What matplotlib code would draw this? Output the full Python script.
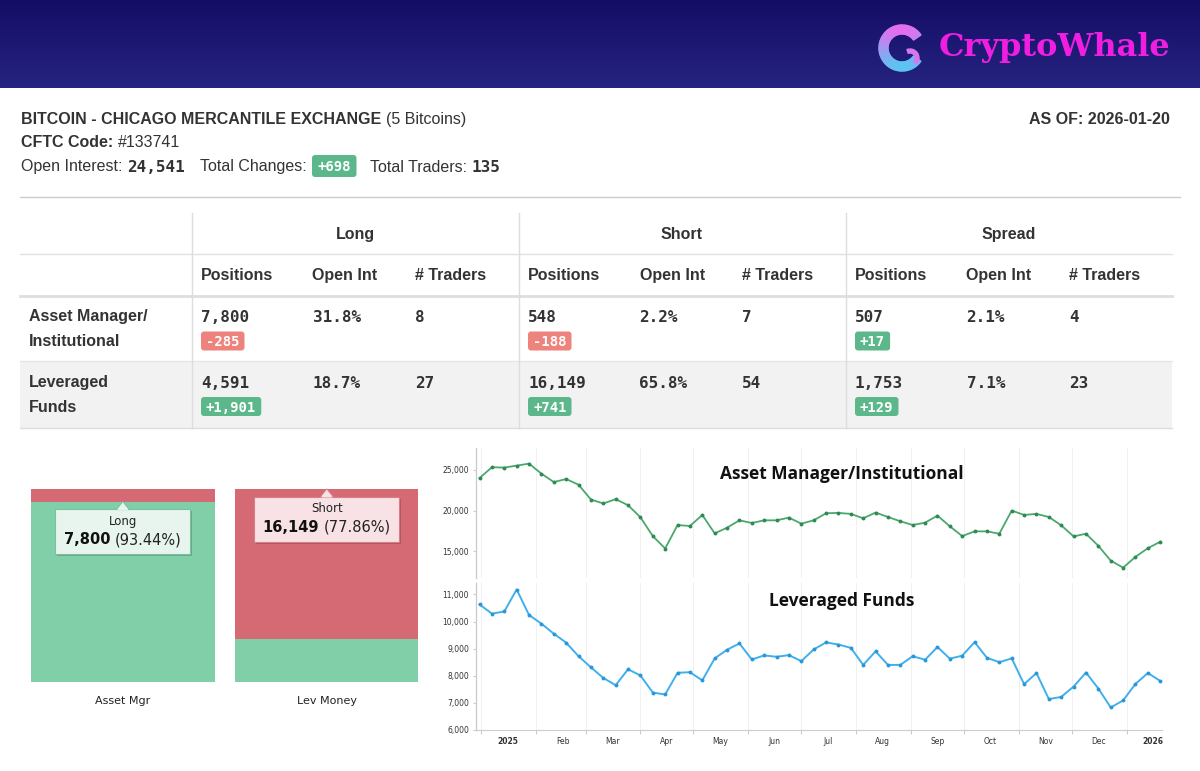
import matplotlib
matplotlib.use("Agg")
import matplotlib.pyplot as plt
from matplotlib.patches import Rectangle, FancyBboxPatch, Polygon, Wedge
import matplotlib.ticker as mticker
import numpy as np
import pandas as pd

# ---------------- data ----------------
market_name = "BITCOIN - CHICAGO MERCANTILE EXCHANGE"
contract_unit = "(5 Bitcoins)"
cftc_code = "#133741"
as_of = "2026-01-20"
open_interest = 24541
total_changes = 698
total_traders = 135

group_names = ["Long", "Short", "Spread"]
sub_columns = ["Positions", "Open Int", "# Traders"]
row_labels = [["Asset Manager/", "Institutional"], ["Leveraged", "Funds"]]
positions = [[7800, 548, 507], [4591, 16149, 1753]]
position_changes = [[-285, -188, 17], [1901, 741, 129]]
open_int_pct = [[31.8, 2.2, 2.1], [18.7, 65.8, 7.1]]
num_traders = [[8, 7, 4], [27, 54, 23]]

bar_categories = ["Asset Mgr", "Lev Money"]
bar_long = [7800, 4591]
bar_short = [548, 16149]
tooltip_side = ["Long", "Short"]

week_start = "2024-12-31"
week_end = "2026-01-20"
asset_mgr_series = [24000, 25330, 25290, 25530, 25780, 24540, 23510, 23880, 23180, 21360,
                    20870, 21400, 20660, 19170, 16860, 15330, 18220, 18100, 19460, 17190,
                    17890, 18800, 18470, 18800, 18800, 19130, 18390, 18800, 19670, 19710,
                    19590, 19050, 19750, 19210, 18680, 18220, 18510, 19380, 18060, 16860,
                    17440, 17440, 17150, 20000, 19460, 19590, 19210, 18180, 16820, 17150,
                    15660, 13840, 12970, 14300, 15370, 16160]
lev_funds_series = [10630, 10290, 10370, 11180, 10240, 9920, 9550, 9220, 8720, 8310,
                    7920, 7650, 8240, 8010, 7380, 7310, 8110, 8130, 7830, 8640,
                    8960, 9190, 8600, 8750, 8700, 8760, 8540, 8970, 9230, 9150,
                    9030, 8400, 8900, 8400, 8400, 8720, 8590, 9060, 8630, 8740,
                    9240, 8660, 8500, 8640, 7690, 8100, 7140, 7220, 7600, 8120,
                    7530, 6830, 7090, 7700, 8100, 7810]
chart_titles = ["Asset Manager/Institutional", "Leveraged Funds"]
month_labels = ["2025", "Feb", "Mar", "Apr", "May", "Jun", "Jul", "Aug",
                "Sep", "Oct", "Nov", "Dec", "2026"]
am_yticks = [15000, 20000, 25000]
lf_yticks = [6000, 7000, 8000, 9000, 10000, 11000]

# ---------------- setup ----------------
W, H = 1200, 771
fig = plt.figure(figsize=(W / 100, H / 100), dpi=100, facecolor="white")
R = fig.canvas.get_renderer()

SANS = "Liberation Sans"
MONO = "DejaVu Sans Mono"
VERD = "DejaVu Sans"
OPEN = "Open Sans"
TXT = "#333333"
GREEN_BADGE = "#5cb88a"
RED_BADGE = "#ee827d"
BAR_GREEN = "#80cfa8"
BAR_RED = "#d66a74"

bg = fig.add_axes([0, 0, 1, 1], zorder=0)
bg.set_xlim(0, W)
bg.set_ylim(H, 0)
bg.axis("off")


def put(ax, x, y, s, size=11.5, weight="normal", family=SANS, color=TXT,
        ha="left", va="baseline", **kw):
    return ax.text(x, y, s, fontsize=size, fontweight=weight, family=family,
                   color=color, ha=ha, va=va, **kw)


def width(t):
    return t.get_window_extent(renderer=R).width


def badge(ax, x, yc, s, color, size=10, h=19, pad=5):
    cap = 0.73 * size * 100 / 72
    t = put(ax, x + pad, yc + cap / 2, s, size=size, weight="bold", family=MONO,
            color="white", zorder=5)
    w = width(t)
    ax.add_patch(FancyBboxPatch((x, yc - h / 2), w + 2 * pad, h,
                                boxstyle="round,pad=0,rounding_size=3",
                                fc=color, ec="none", zorder=4))
    return x + w + 2 * pad


def sequence(ax, x, y, pieces):
    """pieces: list of (gap_before, text, kwargs)"""
    for gap, s, kw in pieces:
        x += gap
        t = put(ax, x, y, s, **kw)
        x += width(t)
    return x


# ---------------- header band ----------------
grad = np.linspace(0, 1, 100)[:, None, None]
c0 = np.array([20, 13, 102]) / 255
c1 = np.array([38, 36, 128]) / 255
img = c0 + (c1 - c0) * grad
bg.imshow(img, extent=(0, W, 88, 0), aspect="auto", interpolation="bilinear", zorder=0)
bg.set_xlim(0, W)
bg.set_ylim(H, 0)

# logo icon (gradient ring)
cx, cy, r_out, ring = 902, 48, 23, 9
pink = np.array([228, 110, 240]) / 255
blue = np.array([92, 196, 242]) / 255
angs = np.linspace(35, 325, 60)
for a0, a1 in zip(angs[:-1], angs[1:]):
    am = np.deg2rad((a0 + a1) / 2)
    f = (np.sin(am) + 1) / 2
    col = pink + (blue - pink) * f
    bg.add_patch(Wedge((cx, cy), r_out, a0, a1 + 0.6, width=ring, color=col, zorder=2))
bg.add_patch(Wedge((cx + 8, cy + 10), 9, 250, 40, width=4, color=pink * 0.9 + blue * 0.1, zorder=2))
put(bg, 939, 56, "CryptoWhale", size=23, weight="heavy", family="DejaVu Serif",
    color="#f01ee0")

# ---------------- summary lines ----------------
B = dict(weight="bold")
N = dict()
M = dict(weight="bold", family=MONO)
sequence(bg, 21, 124, [(0, market_name, B), (4.5, contract_unit, N)])
sequence(bg, 21, 147, [(0, "CFTC Code:", B), (4.5, cftc_code, N)])
x = sequence(bg, 21, 171.5, [(0, "Open Interest:", N), (5, f"{open_interest:,}", M),
                             (15, "Total Changes:", N)])
x = badge(bg, x + 5, 166, f"{total_changes:+,}", GREEN_BADGE, size=10, h=22, pad=5.5)
sequence(bg, x, 171.5, [(14, "Total Traders:", N), (4, f"{total_traders}", M)])
put(bg, 1170, 124, f"AS OF: {as_of}", weight="bold", ha="right")

bg.plot([20, 1180], [196.5, 196.5], color="#cccccc", lw=1, zorder=1)

# ---------------- table ----------------
TL, TR = 20, 1172
bg.add_patch(Rectangle((TL, 361), TR - TL, 67, fc="#f2f2f2", ec="none", zorder=1))
bg.plot([TL, TR], [254, 254], color="#e2e2e2", lw=1, zorder=2)
bg.plot([TL, TR], [295.5, 295.5], color="#dedede", lw=2, zorder=2)
bg.plot([TL, TR], [361, 361], color="#e6e6e6", lw=1, zorder=2)
bg.plot([TL, TR], [428, 428], color="#dddddd", lw=1, zorder=2)
group_x = [191.5, 518.5, 845.5]
for gx in group_x:
    bg.plot([gx, gx], [213, 428], color="#dddddd", lw=1, zorder=2)
sub_off = [9.5, 121, 223.5]
for g, gx in enumerate(group_x):
    put(bg, gx + 163.5, 238.7, group_names[g], weight="bold", ha="center", zorder=3)
    for k, off in enumerate(sub_off):
        put(bg, gx + off, 279.7, sub_columns[k], weight="bold", zorder=3)

row_base = [321.5, 387.5]
row_badge = [341, 406.5]
for r in range(2):
    put(bg, 29, row_base[r], row_labels[r][0], weight="bold", zorder=3)
    put(bg, 29, row_base[r] + 24, row_labels[r][1], weight="bold", zorder=3)
    for g, gx in enumerate(group_x):
        put(bg, gx + sub_off[0], row_base[r], f"{positions[r][g]:,}", weight="bold",
            family=MONO, zorder=3)
        put(bg, gx + sub_off[1], row_base[r], f"{open_int_pct[r][g]:.1f}%", weight="bold",
            family=MONO, zorder=3)
        put(bg, gx + sub_off[2], row_base[r], f"{num_traders[r][g]}", weight="bold",
            family=MONO, zorder=3)
        ch = position_changes[r][g]
        badge(bg, gx + sub_off[0], row_badge[r], f"{ch:+,}",
              GREEN_BADGE if ch > 0 else RED_BADGE, size=10, h=19, pad=5)

# ---------------- stacked bars ----------------
axb = fig.add_axes([31 / W, 1 - 682 / H, 387 / W, 193 / H], zorder=1)
axb.patch.set_alpha(0)
xb = np.arange(len(bar_categories))
tot = np.array(bar_long) + np.array(bar_short)
long_pct = np.array(bar_long) / tot * 100
short_pct = np.array(bar_short) / tot * 100
axb.bar(xb, long_pct, width=0.9, color=BAR_GREEN)
axb.bar(xb, short_pct, bottom=long_pct, width=0.9, color=BAR_RED)
axb.set_xlim(-0.45, 1.447)
axb.set_ylim(0, 100)
axb.axis("off")


def to_px(ax, x, y):
    dx, dy = ax.transData.transform((x, y))
    return dx, H - dy


for i, cat in enumerate(bar_categories):
    cxp, _ = to_px(axb, i, 0)
    put(bg, cxp, 704, cat, size=8, family=VERD, ha="center", color="#222222")

# ---------------- line charts ----------------
dates = pd.date_range(week_start, week_end, freq="7D")
ms = pd.date_range("2025-01-01", "2026-01-01", freq="MS")
mids = ms + pd.Timedelta(days=15)

ax1 = fig.add_axes([476 / W, 1 - 578 / H, 686 / W, 130 / H], zorder=1)
ax2 = fig.add_axes([476 / W, 1 - 730 / H, 686 / W, 147 / H], zorder=1)
ax1.plot(dates, asset_mgr_series, color="#4aa86c", lw=1.3, marker="o", ms=1.8,
         mfc="#2f8a55", mec="#2f8a55", zorder=3)
ax2.plot(dates, lev_funds_series, color="#3fb0ec", lw=1.4, marker="o", ms=1.8,
         mfc="#2a98d6", mec="#2a98d6", zorder=3)
ax1.set_ylim(11700, 27700)
ax2.set_ylim(6000, 11420)
ax1.set_yticks(am_yticks)
ax2.set_yticks(lf_yticks)
for ax in (ax1, ax2):
    ax.patch.set_alpha(0)
    ax.set_xlim(pd.Timestamp("2024-12-29"), pd.Timestamp("2026-01-21"))
    ax.set_xticks(ms.to_pydatetime(), minor=True)
    ax.grid(which="minor", axis="x", color="#f0f0f0", lw=0.8)
    ax.set_axisbelow(True)
    for s in ("top", "right"):
        ax.spines[s].set_visible(False)
    ax.spines["left"].set_color("#cccccc")
    ax.spines["left"].set_linewidth(1)
    ax.yaxis.set_major_formatter(mticker.FuncFormatter(lambda v, p: f"{v:,.0f}"))
    ax.tick_params(axis="y", labelsize=5.5, labelcolor=TXT, color="#cccccc",
                   length=2.5, width=0.8, pad=2.5)
    for lab in ax.get_yticklabels():
        lab.set_family(VERD)
ax1.spines["bottom"].set_visible(False)
ax1.tick_params(axis="x", which="both", length=0, labelbottom=False)
ax1.set_xticks([])
ax1.set_xticks(ms.to_pydatetime(), minor=True)
ax2.spines["bottom"].set_color("#cccccc")
ax2.set_xticks(mids.to_pydatetime())
ax2.set_xticklabels(month_labels)
ax2.tick_params(axis="x", which="major", length=0, labelsize=5.5, labelcolor=TXT, pad=5)
ax2.tick_params(axis="x", which="minor", length=3, color="#cccccc", width=0.8)
xl = ax2.get_xticklabels()
for k, lab in enumerate(xl):
    lab.set_family(VERD)
    if k in (0, len(xl) - 1):
        lab.set_fontweight("bold")

# ---------------- overlay: titles & tooltips ----------------
ov = fig.add_axes([0, 0, 1, 1], zorder=10)
ov.set_xlim(0, W)
ov.set_ylim(H, 0)
ov.axis("off")

put(ov, 842, 479, chart_titles[0], size=12.5, weight="bold", family=OPEN,
    ha="center", color="#111111")
put(ov, 842, 606, chart_titles[1], size=12.5, weight="bold", family=OPEN,
    ha="center", color="#111111")

tip_styles = {"Long": ("#e7f5ee", "#79c29c"), "Short": ("#f9e2e5", "#d77e88")}
for i in range(len(bar_categories)):
    side = tooltip_side[i]
    val = bar_long[i] if side == "Long" else bar_short[i]
    pct = val / (bar_long[i] + bar_short[i]) * 100
    top_val = long_pct[i] if side == "Long" else 100.0
    tipx, tipy = to_px(axb, i, top_val)
    fill, edge = tip_styles[side]
    t1 = put(ov, 0, 0, f"{val:,}", size=10.5, weight="bold", family=VERD,
             color="#111111", zorder=6)
    t2 = put(ov, 0, 0, f"({pct:.2f}%)", size=10.5, family=VERD, color="#222222", zorder=6)
    w1, w2 = width(t1), width(t2)
    gap = 4.5
    pad = 8.5
    bw = w1 + gap + w2 + 2 * pad
    bh = 45
    top = tipy + 7.5
    x0 = tipx - bw / 2
    ov.add_patch(Rectangle((x0 + 2, top + 2), bw, bh, fc="black", alpha=0.18,
                           ec="none", zorder=3))
    ov.add_patch(Rectangle((x0, top), bw, bh, fc=fill, ec=edge, lw=0.8, zorder=4))
    ov.add_patch(Polygon([(tipx - 6.5, top + 0.4), (tipx, tipy), (tipx + 6.5, top + 0.4)],
                         closed=True, fc=fill, ec=edge, lw=0.8, zorder=4))
    ov.add_patch(Polygon([(tipx - 5.8, top + 1.0), (tipx, tipy + 1), (tipx + 5.8, top + 1.0)],
                         closed=True, fc=fill, ec="none", zorder=5))
    put(ov, tipx, top + 11.5 + 4.3, side, size=8.5, family=VERD, ha="center",
        color="#222222", zorder=6)
    xs = tipx - (w1 + gap + w2) / 2
    t1.set_position((xs, top + 30 + 5.3))
    t2.set_position((xs + w1 + gap, top + 30 + 5.3))

fig.savefig("out.png", dpi=100, facecolor="white")
